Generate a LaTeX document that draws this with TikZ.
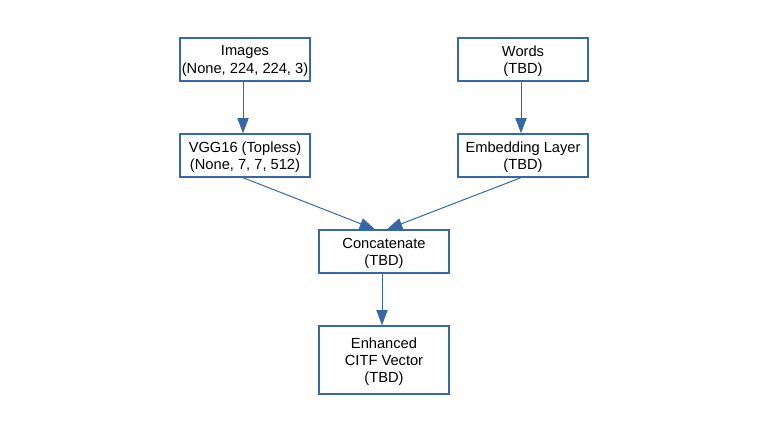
\documentclass[tikz,border=0pt]{standalone}
\usepackage{fontspec}
\setmainfont{Liberation Sans}
\usetikzlibrary{arrows.meta}
\definecolor{edge}{RGB}{54,104,168}
\begin{document}
\begin{tikzpicture}[x=0.75pt,y=-0.75pt,
  box/.style={draw=edge,line width=1pt,fill=white,inner sep=0pt,align=center,
    text depth=-1.5pt,
    font=\fontsize{11}{12.9}\selectfont},
  conn/.style={draw=edge,line width=0.75pt,-{Triangle[length=11.5pt,width=8.5pt]}}]
\useasboundingbox (0,0) rectangle (768,432);
\node[box,minimum width=130*0.75pt,minimum height=43*0.75pt] (img) at (245,59.5) {Images\\(None, 224, 224, 3)};
\node[box,minimum width=130*0.75pt,minimum height=43*0.75pt] (wrd) at (523,59.5) {Words\\(TBD)};
\node[box,minimum width=130*0.75pt,minimum height=43*0.75pt] (vgg) at (245,155.5) {VGG16 (Topless)\\(None, 7, 7, 512)};
\node[box,minimum width=130*0.75pt,minimum height=43*0.75pt] (emb) at (523,155.5) {Embedding Layer\\(TBD)};
\node[box,minimum width=130*0.75pt,minimum height=43*0.75pt] (cat) at (384,251.5) {Concatenate\\(TBD)};
\node[box,minimum width=130*0.75pt,minimum height=68*0.75pt] (out) at (384,360) {Enhanced\\CITF Vector\\(TBD)};
\draw[conn] ([xshift=-2*0.75pt]img.south) -- ([xshift=-2*0.75pt]vgg.north);
\draw[conn] ([xshift=-2*0.75pt]wrd.south) -- ([xshift=-2*0.75pt]emb.north);
\draw[conn] ([xshift=-2*0.75pt]vgg.south) -- ([xshift=-9*0.75pt]cat.north);
\draw[conn] ([xshift=-2*0.75pt]emb.south) -- ([xshift=3*0.75pt]cat.north);
\draw[conn] ([xshift=-2*0.75pt]cat.south) -- ([xshift=-2*0.75pt]out.north);
\end{tikzpicture}
\end{document}
